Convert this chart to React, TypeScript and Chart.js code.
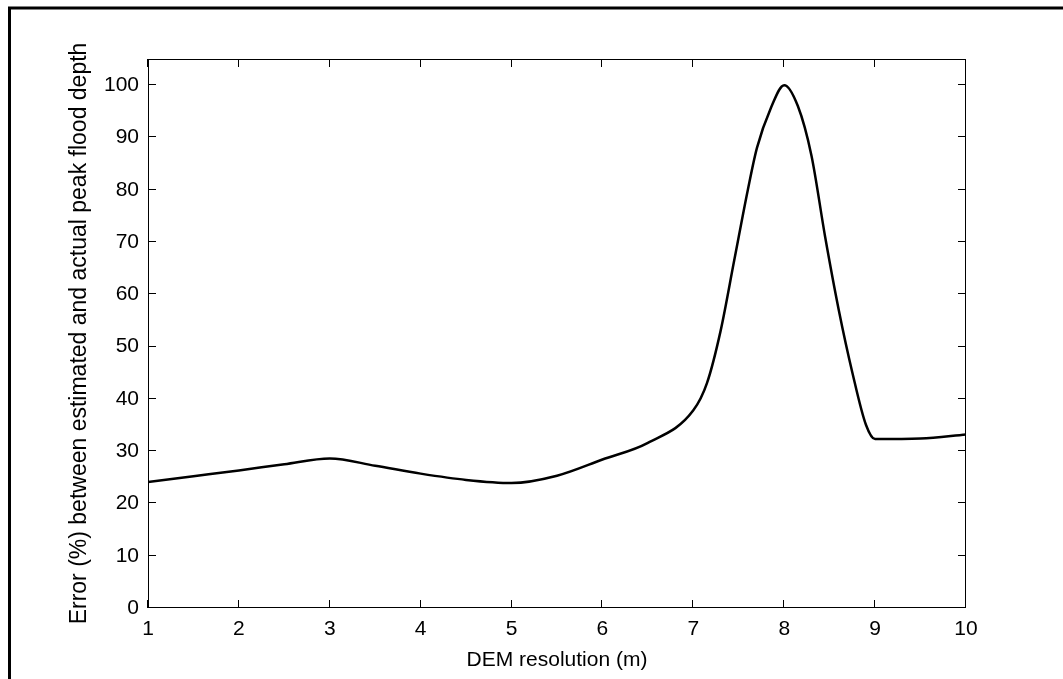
import React, { useEffect, useRef } from "react";
import { Chart, registerables } from "chart.js";

Chart.register(...registerables);

// DEM resolution (m)
const resolutionValues = [
  1, 1.5, 2, 2.5, 3, 3.5, 4, 4.5, 5, 5.5, 6, 6.5, 7, 7.15, 7.3, 7.45, 7.6, 7.7,
  7.85, 8, 8.15, 8.3, 8.45, 8.6, 8.75, 8.9, 9, 9.5, 10,
];
// Error (%) between estimated and actual peak flood depth
const errorValues = [
  24.1, 25.2, 26.3, 27.5, 28.6, 27.2, 25.7, 24.5, 23.9, 25.3, 28.4, 31.6, 37.8,
  43, 53, 66.5, 80, 88, 95.5, 100, 96, 86.5, 71, 57, 45, 35, 32.3, 32.4, 33.2,
];

const xAxisTitle = "DEM resolution (m)";
const yAxisTitle = "Error (%) between estimated and actual peak flood depth";

const FONT = "'Liberation Sans', Arial, Helvetica, sans-serif";
const FONT_SIZE = 21;
const Y_TITLE_SIZE = 23;
const TICK_LEN = 8;

const frameAndTicks = {
  id: "frameAndTicks",
  afterDraw(chart: any) {
    const { ctx, chartArea, scales } = chart;
    const { left, right, top, bottom } = chartArea;
    ctx.save();
    ctx.strokeStyle = "#000";
    ctx.lineWidth = 1;
    // plot box
    ctx.strokeRect(left + 0.5, top + 0.5, right - left - 1, bottom - top - 1);
    // inward ticks
    ctx.beginPath();
    for (const t of scales.x.ticks) {
      const px = Math.round(scales.x.getPixelForValue(t.value)) - 0.5;
      ctx.moveTo(px, bottom);
      ctx.lineTo(px, bottom - TICK_LEN);
      ctx.moveTo(px, top);
      ctx.lineTo(px, top + TICK_LEN);
    }
    for (const t of scales.y.ticks) {
      const py = Math.round(scales.y.getPixelForValue(t.value)) - 0.5;
      ctx.moveTo(left, py);
      ctx.lineTo(left + TICK_LEN, py);
      ctx.moveTo(right, py);
      ctx.lineTo(right - TICK_LEN, py);
    }
    ctx.stroke();
    // outer figure frame (top and left visible)
    ctx.lineWidth = 3;
    ctx.beginPath();
    ctx.moveTo(9.5, chart.height + 5);
    ctx.lineTo(9.5, 8);
    ctx.lineTo(chart.width + 5, 8);
    ctx.stroke();
    ctx.restore();
  },
};

export default function App() {
  const canvasRef = useRef<HTMLCanvasElement>(null);

  useEffect(() => {
    document.body.style.margin = "0";
    document.body.style.overflow = "hidden";
    const canvas = canvasRef.current;
    if (!canvas) return;
    const chart = new Chart(canvas, {
      type: "line",
      data: {
        datasets: [
          {
            data: resolutionValues.map((x, i) => ({ x, y: errorValues[i] })),
            borderColor: "#000",
            borderWidth: 2.5,
            pointRadius: 0,
            fill: false,
            cubicInterpolationMode: "monotone",
          },
        ],
      },
      options: {
        animation: false,
        responsive: true,
        maintainAspectRatio: false,
        layout: { padding: { top: 59, right: 97, left: 0, bottom: 0 } },
        plugins: { legend: { display: false }, tooltip: { enabled: false } },
        scales: {
          x: {
            type: "linear",
            min: 1,
            max: 10,
            grid: { display: false, drawTicks: false },
            border: { display: false },
            ticks: {
              stepSize: 1,
              autoSkip: false,
              maxRotation: 0,
              padding: 9,
              color: "#000",
              font: { family: FONT, size: FONT_SIZE },
            },
            title: {
              display: true,
              text: xAxisTitle,
              color: "#000",
              font: { family: FONT, size: FONT_SIZE },
              padding: { top: 0, bottom: 6 },
            },
            afterFit: (s: any) => {
              s.height = 71;
            },
          },
          y: {
            min: 0,
            max: 105,
            grid: { display: false, drawTicks: false },
            border: { display: false },
            ticks: {
              stepSize: 10,
              includeBounds: false,
              padding: 9,
              color: "#000",
              font: { family: FONT, size: FONT_SIZE },
            },
            title: {
              display: true,
              text: yAxisTitle,
              color: "#000",
              font: { family: FONT, size: Y_TITLE_SIZE },
              padding: { top: 66, bottom: 0 },
            },
            afterFit: (s: any) => {
              s.width = 148;
            },
          },
        },
      },
      plugins: [frameAndTicks],
    } as any);
    return () => chart.destroy();
  }, []);

  return (
    <div style={{ width: 1063, height: 679, position: "relative", background: "#fff" }}>
      <canvas ref={canvasRef} />
    </div>
  );
}
